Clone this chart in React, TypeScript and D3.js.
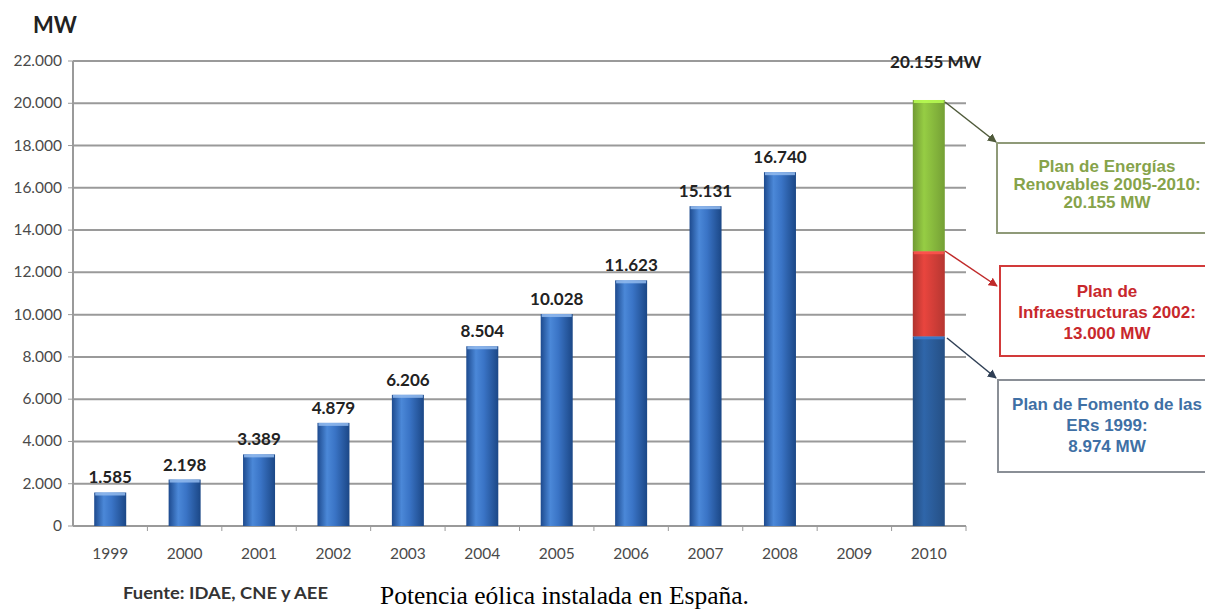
import React from "react";
import * as d3 from "d3";

const years = ["1999","2000","2001","2002","2003","2004","2005","2006","2007","2008","2009","2010"];
const installed = [1585, 2198, 3389, 4879, 6206, 8504, 10028, 11623, 15131, 16740, null, null];
const installedLabels = ["1.585","2.198","3.389","4.879","6.206","8.504","10.028","11.623","15.131","16.740"];
const planYear = "2010";
const planLevels = [8974, 13000, 20155];
const planColors = ["#2c5f9e", "#d9403a", "#8cbf3f"];
const planText = [
  ["Plan de Fomento de las", "ERs 1999:", "8.974 MW"],
  ["Plan de", "Infraestructuras 2002:", "13.000 MW"],
  ["Plan de Energías", "Renovables 2005-2010:", "20.155 MW"],
];
const planTextColors = ["#3f70a5", "#c8282c", "#86a34a"];
const planBorders = ["#8a8f96", "#d23a3a", "#8f9a78"];
const planArrowColors = ["#2f3f55", "#c02a2a", "#4f5a3a"];
const yTicks = [0, 2000, 4000, 6000, 8000, 10000, 12000, 14000, 16000, 18000, 20000, 22000];
const yTickLabels = ["0","2.000","4.000","6.000","8.000","10.000","12.000","14.000","16.000","18.000","20.000","22.000"];
const totalLabel = "20.155 MW";
const unitLabel = "MW";
const sourceLabel = "Fuente: IDAE, CNE y AEE";
const captionLabel = "Potencia eólica instalada en España.";

export default function App() {
  const W = 1205, H = 610;
  const x0 = 73, x1 = 966;
  const y = d3.scaleLinear().domain([0, 22000]).range([526, 61]);
  const x = d3.scaleBand().domain(years).range([x0, x1]).paddingInner(0.57).paddingOuter(0.285);
  const bw = x.bandwidth();
  const font = "Lato, 'Open Sans', sans-serif";
  const boxFont = "'Liberation Sans', Arial, sans-serif";
  const px = x(planYear)!;

  const boxes = [
    { x: 998, y: 380, w: 220, h: 92, first: 30, step: 21, arrowFrom: [947, 338], arrowTo: [996, 378] },
    { x: 1000, y: 266, w: 220, h: 90, first: 31, step: 21, arrowFrom: [945, 251], arrowTo: [997, 286] },
    { x: 997, y: 143, w: 220, h: 90, first: 29, step: 18, arrowFrom: [945, 102], arrowTo: [996, 142] },
  ];

  return (
    <svg width={W} height={H} style={{ position: "absolute", left: 0, top: 0, background: "#fff" }}>
      <defs>
        <linearGradient id="gBlue" x1="0" x2="1" y1="0" y2="0">
          <stop offset="0" stopColor="#1d4a8e" />
          <stop offset="0.3" stopColor="#4b88d8" />
          <stop offset="0.55" stopColor="#3a74c6" />
          <stop offset="1" stopColor="#1b4786" />
        </linearGradient>
        {planColors.map((c, i) => (
          <linearGradient key={i} id={`gPlan${i}`} x1="0" x2="1" y1="0" y2="0">
            <stop offset="0" stopColor={d3.color(c)!.darker(0.6).toString()} />
            <stop offset="0.35" stopColor={d3.color(c)!.brighter(0.2).toString()} />
            <stop offset="1" stopColor={d3.color(c)!.darker(0.5).toString()} />
          </linearGradient>
        ))}
        {planArrowColors.map((c, i) => (
          <marker key={i} id={`arr${i}`} viewBox="0 0 10 10" refX="9" refY="5" markerWidth="6" markerHeight="6" orient="auto">
            <path d="M0,0 L10,5 L0,10 z" fill={c} />
          </marker>
        ))}
      </defs>

      <text x={33} y={33} fontFamily={font} fontWeight="bold" fontSize={22} fill="#222">{unitLabel}</text>

      {yTicks.map((t, i) => (
        <g key={t}>
          <line x1={x0} x2={x1} y1={y(t)} y2={y(t)} stroke="#9a9a9a" strokeWidth={2} />
          <line x1={x0 - 5} x2={x0} y1={y(t)} y2={y(t)} stroke="#9a9a9a" strokeWidth={1} />
          <text x={62} y={y(t) + 5} textAnchor="end" fontFamily={font} fontSize={15.5} fill="#4a4a4a">{yTickLabels[i]}</text>
        </g>
      ))}
      <line x1={x0} x2={x0} y1={y(22000)} y2={y(0)} stroke="#9a9a9a" strokeWidth={2} />
      {years.map((yr, i) => (
        <line key={yr} x1={x0 + (i + 1) * (x1 - x0) / years.length} x2={x0 + (i + 1) * (x1 - x0) / years.length} y1={y(0)} y2={y(0) + 5} stroke="#9a9a9a" />
      ))}

      {years.map((yr, i) => {
        const v = installed[i];
        if (v == null) return null;
        const bx = x(yr)!;
        return (
          <g key={yr}>
            <rect x={bx} y={y(v)} width={bw} height={y(0) - y(v)} fill="url(#gBlue)" />
            <rect x={bx + 1} y={y(v)} width={bw - 2} height={3} fill="#93bbee" opacity={0.85} />
            <text x={bx + bw / 2} y={y(v) - 9} textAnchor="middle" fontFamily={font} fontWeight="bold" fontSize={17} fill="#222">{installedLabels[i]}</text>
          </g>
        );
      })}

      {planLevels.map((v, i) => {
        const lo = i === 0 ? 0 : planLevels[i - 1];
        return (
          <g key={i}>
            <rect x={px} y={y(v)} width={bw} height={y(lo) - y(v)} fill={`url(#gPlan${i})`} />
            <rect x={px + 1} y={y(v)} width={bw - 2} height={3} fill={d3.color(planColors[i])!.brighter(0.8).toString()} opacity={0.85} />
          </g>
        );
      })}
      <text x={px + bw / 2 + 7} y={68} textAnchor="middle" fontFamily={font} fontWeight="bold" fontSize={17} fill="#222">{totalLabel}</text>

      {years.map((yr) => (
        <text key={yr} x={x(yr)! + bw / 2} y={559} textAnchor="middle" fontFamily={font} fontSize={15.5} fill="#4a4a4a">{yr}</text>
      ))}

      {boxes.map((b, i) => (
        <g key={i}>
          <line x1={b.arrowFrom[0]} y1={b.arrowFrom[1]} x2={b.arrowTo[0]} y2={b.arrowTo[1]} stroke={planArrowColors[i]} strokeWidth={1.5} markerEnd={`url(#arr${i})`} />
          <rect x={b.x} y={b.y} width={b.w} height={b.h} fill="#fff" stroke={planBorders[i]} strokeWidth={2} />
          {planText[i].map((t, j) => (
            <text key={j} x={1107} y={b.y + b.first + j * b.step} textAnchor="middle" fontFamily={boxFont} fontWeight="bold" fontSize={17} fill={planTextColors[i]}>{t}</text>
          ))}
        </g>
      ))}

      <text x={123} y={599} fontFamily={font} fontWeight="bold" fontSize={17} fill="#333" textLength={205} lengthAdjust="spacingAndGlyphs">{sourceLabel}</text>
      <text x={380} y={604} fontFamily="'Liberation Serif', 'DejaVu Serif', serif" fontSize={25.5} fill="#000">{captionLabel}</text>
    </svg>
  );
}
